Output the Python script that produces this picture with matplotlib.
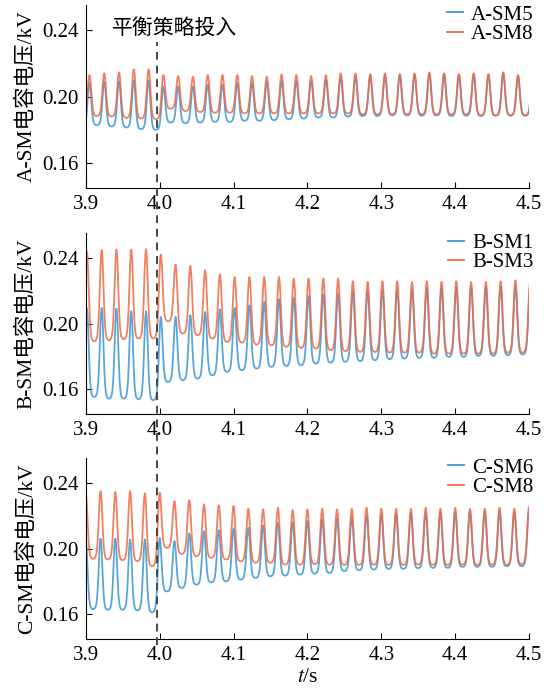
import matplotlib
matplotlib.use("Agg")
import matplotlib.pyplot as plt
import matplotlib.transforms as mtransforms
from matplotlib.lines import Line2D
import numpy as np

plt.rcParams["font.family"] = ["Liberation Serif", "Noto Sans CJK SC"]
plt.rcParams["mathtext.fontset"] = "stix"

BLUE = "#3B97D3"
ORANGE = "#EE6A44"

PERIOD = 0.02
# pulse shape around one peak, phase in half-periods
PULSE_PHASE = [-1.0, -0.8, -0.65, -0.55, -0.45, -0.35, -0.25, -0.15, -0.07, 0.0,
               0.07, 0.15, 0.25, 0.35, 0.45, 0.55, 0.65, 0.8]
PULSE_LEVEL = [0.0, 0.01, 0.04, 0.09, 0.19, 0.36, 0.60, 0.84, 0.96, 1.0,
               0.96, 0.83, 0.58, 0.34, 0.17, 0.08, 0.03, 0.008]

X_TICKS = [3.9, 4.0, 4.1, 4.2, 4.3, 4.4, 4.5]
Y_TICKS = [0.16, 0.20, 0.24]
T_SWITCH = 3.9966

# ---- phase A ----
A_T0 = 3.905
A_SM5_PEAK = [0.2081, 0.2088, 0.2091, 0.2097, 0.2097, 0.2061, 0.2061, 0.2061, 0.2071, 0.2071,
              0.2081, 0.2081, 0.2085, 0.2091, 0.2091, 0.2097, 0.2101, 0.2117, 0.2120, 0.2125,
              0.2130, 0.2128, 0.2132, 0.2138, 0.2134, 0.2130, 0.2134, 0.2130, 0.2140, 0.2124, 0.2128]
A_SM5_TROUGH = [0.1830, 0.1828, 0.1820, 0.1814, 0.1804, 0.1800, 0.1844, 0.1840, 0.1844, 0.1848,
                0.1848, 0.1854, 0.1854, 0.1858, 0.1864, 0.1868, 0.1874, 0.1874, 0.1880, 0.1883,
                0.1883, 0.1887, 0.1887, 0.1885, 0.1887, 0.1883, 0.1885, 0.1883, 0.1885, 0.1885,
                0.1885, 0.1885]
A_SM8_PEAK = [0.2130, 0.2140, 0.2146, 0.2164, 0.2164, 0.2130, 0.2124, 0.2120, 0.2130, 0.2130,
              0.2130, 0.2124, 0.2120, 0.2134, 0.2130, 0.2124, 0.2130, 0.2140, 0.2140, 0.2136,
              0.2140, 0.2136, 0.2140, 0.2146, 0.2140, 0.2136, 0.2140, 0.2136, 0.2146, 0.2130, 0.2134]
A_SM8_TROUGH = [0.1885, 0.1883, 0.1880, 0.1872, 0.1868, 0.1864, 0.1927, 0.1913, 0.1907, 0.1903,
                0.1903, 0.1899, 0.1899, 0.1899, 0.1899, 0.1899, 0.1899, 0.1899, 0.1899, 0.1893,
                0.1893, 0.1893, 0.1893, 0.1893, 0.1893, 0.1893, 0.1893, 0.1887, 0.1887, 0.1887,
                0.1887, 0.1887]

# ---- phase B ----
B_T0 = 3.9015
B_SM1_PEAK = [0.2091, 0.2095, 0.2091, 0.2075, 0.2075, 0.2041, 0.2041, 0.2051, 0.2071, 0.2087,
              0.2095, 0.2112, 0.2132, 0.2148, 0.2156, 0.2168, 0.2177, 0.2183, 0.2193, 0.2200,
              0.2203, 0.2207, 0.2211, 0.2215, 0.2218, 0.2220, 0.2222, 0.2224, 0.2226, 0.2228, 0.2228]
B_SM1_TROUGH = [0.1560, 0.1553, 0.1543, 0.1543, 0.1539, 0.1533, 0.1645, 0.1655, 0.1665, 0.1685,
                0.1706, 0.1716, 0.1726, 0.1736, 0.1742, 0.1746, 0.1756, 0.1762, 0.1767, 0.1771,
                0.1777, 0.1783, 0.1787, 0.1791, 0.1791, 0.1797, 0.1797, 0.1803, 0.1803, 0.1807,
                0.1811, 0.1811]
B_SM3_PEAK = [0.2437, 0.2447, 0.2451, 0.2451, 0.2453, 0.2420, 0.2359, 0.2351, 0.2325, 0.2300,
              0.2284, 0.2284, 0.2284, 0.2284, 0.2274, 0.2274, 0.2274, 0.2274, 0.2258, 0.2254,
              0.2258, 0.2258, 0.2254, 0.2258, 0.2254, 0.2258, 0.2254, 0.2254, 0.2258, 0.2264, 0.2260]
B_SM3_TROUGH = [0.1890, 0.1892, 0.1898, 0.1905, 0.1909, 0.1909, 0.2014, 0.1939, 0.1929, 0.1909,
                0.1888, 0.1884, 0.1872, 0.1868, 0.1858, 0.1852, 0.1848, 0.1838, 0.1832, 0.1827,
                0.1827, 0.1823, 0.1823, 0.1823, 0.1817, 0.1817, 0.1817, 0.1817, 0.1817, 0.1823,
                0.1823, 0.1823]

# ---- phase C ----
C_T0 = 3.900
C_SM6_PEAK = [0.2040, 0.2060, 0.2060, 0.2055, 0.2055, 0.2065, 0.2045, 0.2092, 0.2106, 0.2112,
              0.2120, 0.2126, 0.2140, 0.2157, 0.2160, 0.2167, 0.2177, 0.2181, 0.2187, 0.2202,
              0.2208, 0.2212, 0.2218, 0.2220, 0.2222, 0.2222, 0.2224, 0.2224, 0.2226, 0.2226, 0.2235]
C_SM6_TROUGH = [0.1631, 0.1631, 0.1627, 0.1627, 0.1623, 0.1611, 0.1739, 0.1760, 0.1780, 0.1794,
                0.1800, 0.1811, 0.1821, 0.1831, 0.1835, 0.1841, 0.1847, 0.1851, 0.1862, 0.1868,
                0.1872, 0.1876, 0.1876, 0.1880, 0.1882, 0.1882, 0.1888, 0.1888, 0.1888, 0.1892,
                0.1892, 0.1892]
C_SM8_PEAK = [0.2330, 0.2350, 0.2344, 0.2350, 0.2336, 0.2340, 0.2289, 0.2295, 0.2269, 0.2263,
              0.2259, 0.2242, 0.2238, 0.2248, 0.2234, 0.2238, 0.2242, 0.2238, 0.2242, 0.2248,
              0.2242, 0.2242, 0.2242, 0.2248, 0.2242, 0.2248, 0.2242, 0.2242, 0.2248, 0.2242, 0.2254]
C_SM8_TROUGH = [0.1937, 0.1937, 0.1933, 0.1929, 0.1923, 0.1892, 0.2004, 0.1967, 0.1953, 0.1943,
                0.1933, 0.1922, 0.1913, 0.1913, 0.1902, 0.1902, 0.1905, 0.1902, 0.1900, 0.1900,
                0.1902, 0.1900, 0.1900, 0.1902, 0.1900, 0.1900, 0.1902, 0.1900, 0.1902, 0.1900,
                0.1905, 0.1905]

PANELS = [
    ("A", A_T0, ("A-SM5", A_SM5_PEAK, A_SM5_TROUGH), ("A-SM8", A_SM8_PEAK, A_SM8_TROUGH)),
    ("B", B_T0, ("B-SM1", B_SM1_PEAK, B_SM1_TROUGH), ("B-SM3", B_SM3_PEAK, B_SM3_TROUGH)),
    ("C", C_T0, ("C-SM6", C_SM6_PEAK, C_SM6_TROUGH), ("C-SM8", C_SM8_PEAK, C_SM8_TROUGH)),
]


def build_wave(t0, peaks, troughs):
    """join the read peak / trough levels of every cycle with the pulse shape"""
    t, v = [], []
    for k, pk in enumerate(peaks):
        tp = t0 + k * PERIOD
        for ph, lv in zip(PULSE_PHASE, PULSE_LEVEL):
            base = troughs[k] if ph <= 0 else troughs[k + 1]
            t.append(tp + ph * PERIOD / 2)
            v.append(base + (pk - base) * lv)
    t.append(t0 + (len(peaks) - 1) * PERIOD + PERIOD / 2)
    v.append(troughs[-1])
    return np.array(t), np.array(v)


fig = plt.figure(figsize=(5.5, 6.9), dpi=100)
boxes = [[0.156, 0.7275, 0.806, 0.265],
         [0.156, 0.400, 0.806, 0.262],
         [0.156, 0.074, 0.806, 0.262]]

axes = []
for box, (phase, t0, s1, s2) in zip(boxes, PANELS):
    ax = fig.add_axes(box)
    for (name, pk, tr), col in zip((s1, s2), (BLUE, ORANGE)):
        t, v = build_wave(t0, pk, tr)
        ax.plot(t, v, color=col, lw=1.3, alpha=0.85, label=name)
    ax.set_xlim(3.9, 4.5)
    ax.set_ylim(0.145, 0.255)
    ax.set_xticks(X_TICKS)
    ax.set_xticklabels(["%.1f" % x for x in X_TICKS])
    ax.set_yticks(Y_TICKS)
    ax.set_yticklabels(["%.2f" % y for y in Y_TICKS])
    ax.tick_params(direction="in", length=4, width=0.8, labelsize=15, pad=5)
    for s in ("top", "right"):
        ax.spines[s].set_visible(False)
    for s in ("left", "bottom"):
        ax.spines[s].set_linewidth(0.8)
    ax.set_ylabel(phase + "-SM电容电压/kV", fontsize=15.5, labelpad=4)
    handles = [Line2D([], [], color=BLUE, lw=1.3), Line2D([], [], color=ORANGE, lw=1.3)]
    ax.legend(handles, [s1[0], s2[0]], loc="upper right", bbox_to_anchor=(1.01, 1.0),
              frameon=False, fontsize=15, handlelength=0.75, handletextpad=0.4,
              labelspacing=0.0, borderpad=0, borderaxespad=0)
    axes.append(ax)

axes[0].text(3.935, 0.2415, "平衡策略投入", fontsize=15, va="center", ha="left",
             family=["Noto Sans CJK SC", "DejaVu Sans"])
axes[2].set_xlabel("$t$/s", fontsize=15.5, labelpad=2)

# switching instant, dashed across all three panels
trans = mtransforms.blended_transform_factory(axes[0].transData, fig.transFigure)
fig.add_artist(Line2D([T_SWITCH, T_SWITCH], [1 - 645 / 690, 1 - 42 / 690], transform=trans,
                      color="#454545", lw=1.4, linestyle=(0, (4, 3))))

fig.savefig("out.png", dpi=100)
